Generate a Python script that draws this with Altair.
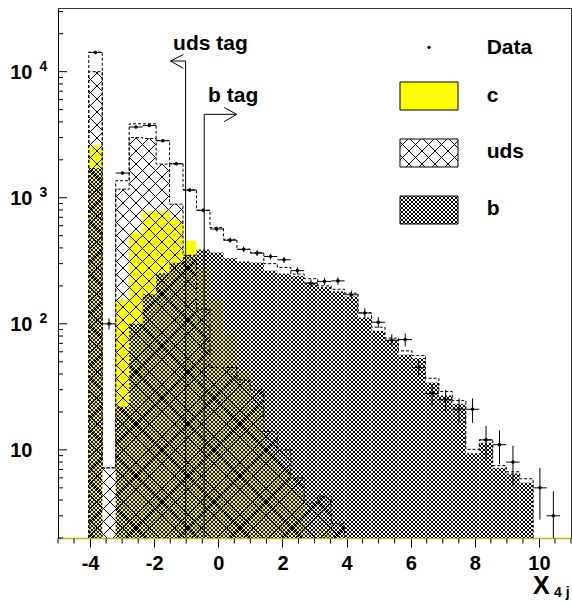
import math
import altair as alt
import pandas as pd

# ------------------------------------------------------------------ data
BIN_START = -4.04
BIN_WIDTH = 0.42
N_BINS = 35

data_counts = [14200, 100, 1570, 3640, 3740, 2830, 1860, 1150, 795, 565,
               460, 390, 364, 342, 322, 264, 210, 217, 219, 170,
               122, 103, 74, 75, 45, 28, 25, 21, 21, 12,
               11, 8, 0, 5, 3]
data_errors = [119, 10, 40, 60, 61, 53, 43, 34, 28, 24,
               21, 20, 19, 18.5, 18, 16, 14.5, 14.7, 14.8, 13,
               11, 10, 8.6, 8.7, 6.7, 5.3, 5, 4.6, 4.6, 3.5,
               3.3, 2.8, 0, 2.2, 1.7]
c_vals = [2600, 0, 155, 531, 780, 780, 675, 455, 277, 157,
          82, 42, 22, 9.4, 7.0, 4.7, 0, 2.35, 0, 0,
          0, 0, 0, 0, 0, 0, 0, 0, 0, 0,
          0, 0, 0, 0, 0]
uds_vals = [10000, 7.2, 1170, 3000, 2950, 1850, 890, 350, 130, 45,
            45, 36, 30, 14, 10, 6, 3.8, 4.3, 2.6, 0,
            0, 0, 0, 0, 0, 0, 0, 0, 0, 0,
            0, 0, 0, 0, 0]
b_vals = [1720, 0, 22, 100, 172, 252, 305, 350, 388, 368,
          332, 312, 306, 264, 250, 240, 213, 196, 181, 165,
          112, 88, 75, 57, 53.5, 34.2, 27, 23.2, 9.4, 11.4,
          7.2, 6.5, 5.5, 0, 0]
mc_total = [14300, 7.2, 1365, 3860, 3860, 2850, 1860, 1157, 795, 580,
            468, 390, 366, 300, 280, 248, 228, 200, 188, 175,
            122, 94, 77, 61, 56, 37, 29, 24.6, 10.1, 12,
            7.5, 6.7, 5.9, 0, 0]

x_major = [-4, -2, 0, 2, 4, 6, 8, 10]
x_minor = [-5, -4.5, -3.5, -3, -2.5, -1.5, -1, -0.5, 0.5, 1, 1.5, 2.5, 3, 3.5,
           4.5, 5, 5.5, 6.5, 7, 7.5, 8.5, 9, 9.5, 10.5, 11]
y_major = [10, 100, 1000, 10000]
y_major_exp = ["", "2", "3", "4"]
y_minor = [2, 3, 4, 5, 6, 7, 8, 9, 20, 30, 40, 50, 60, 70, 80, 90,
           200, 300, 400, 500, 600, 700, 800, 900,
           2000, 3000, 4000, 5000, 6000, 7000, 8000, 9000, 20000, 30000]

# cut arrows: (cut position, arrow height, tip x, arm x, arm y up, arm y down)
uds_cut = [-1.02, 12150, -1.49, -1.09, 13700, 10650]
b_cut = [-0.44, 4590, 0.57, 0.18, 5210, 4010]
tag_labels = ["uds tag", "b tag"]
tag_x = [-1.41, -0.32]
tag_y = [14860, 5780]

legend_labels = ["Data", "c", "uds", "b"]

# ------------------------------------------------------------------ layout
XMIN, XMAX = -5, 11
YMIN, YMAX = 2, 32000
W, H = 513, 530
FONT = "Liberation Sans"
YELLOW = "#ffff00"
LOG_LO, LOG_HI = math.log10(YMIN), math.log10(YMAX)

edges = [round(BIN_START + BIN_WIDTH * k, 4) for k in range(N_BINS + 1)]


def px_x(x):
    return (x - XMIN) / (XMAX - XMIN) * W


def px_y(v):
    return (LOG_HI - math.log10(v)) / (LOG_HI - LOG_LO) * H


def dx(X):
    return XMIN + X / W * (XMAX - XMIN)


def dy(Y):
    return 10 ** (LOG_HI - Y / H * (LOG_HI - LOG_LO))


def hatch_rect(X0, X1, Yt, Yb, pitch, fam):
    """45-degree hatch lines (pixel space) clipped to a rectangle."""
    out = []
    if fam == "/":          # X + Y = c
        n0 = math.ceil((X0 + Yt) / pitch)
        n1 = math.floor((X1 + Yb) / pitch)
        for n in range(n0, n1 + 1):
            c = n * pitch
            a = max(X0, c - Yb)
            b = min(X1, c - Yt)
            if b - a > 0.05:
                out.append((a, c - a, b, c - b))
    else:                   # X - Y = c
        n0 = math.ceil((X0 - Yb) / pitch)
        n1 = math.floor((X1 - Yt) / pitch)
        for n in range(n0, n1 + 1):
            c = n * pitch
            a = max(X0, Yt + c)
            b = min(X1, Yb + c)
            if b - a > 0.05:
                out.append((a, a - c, b, b - c))
    return out


def hatch_hist(vals, pitch):
    segs = []
    for k in range(N_BINS):
        if vals[k] <= YMIN:
            continue
        X0, X1 = px_x(edges[k]), px_x(edges[k + 1])
        Yt = px_y(vals[k])
        for fam in ("/", "\\"):
            segs += hatch_rect(X0, X1, Yt, H, pitch, fam)
    return segs


def seg_df(segs):
    return pd.DataFrame([{"x": dx(a), "y": dy(b), "x2": dx(c), "y2": dy(d)}
                         for a, b, c, d in segs])


xs = alt.Scale(domain=[XMIN, XMAX], nice=False, zero=False)
ys = alt.Scale(type="log", domain=[YMIN, YMAX], nice=False, clamp=True)
x_axis = alt.Axis(values=x_major, title=None, labelFont=FONT, labelFontSize=20,
                  labelFontWeight="bold", labelColor="black", tickSize=9,
                  tickColor="black", tickWidth=1, domainColor="#bdbd00",
                  domainWidth=1.5, labelPadding=6, grid=False,
                  labelExpr="toString(datum.value)")
y_axis = alt.Axis(ticks=False, labels=False, title=None, domainColor="black",
                  domainWidth=1, grid=False)


def X(f):
    return alt.X(f, scale=xs, axis=x_axis)


def Y(f):
    return alt.Y(f, scale=ys, axis=y_axis)


def area_df(vals):
    rows = [{"x": edges[k], "y": max(vals[k], YMIN), "base": YMIN} for k in range(len(vals))]
    rows.append({"x": edges[-1], "y": max(vals[-1], YMIN), "base": YMIN})
    return pd.DataFrame(rows)


def outline_df(vals):
    n = len(vals)
    while n > 0 and vals[n - 1] <= 0:
        n -= 1
    rows = [{"x": edges[0], "y": YMIN, "i": 0}]
    for k in range(n):
        rows.append({"x": edges[k], "y": max(vals[k], YMIN), "i": k + 1})
    rows.append({"x": edges[n], "y": max(vals[n - 1], YMIN), "i": n + 1})
    rows.append({"x": edges[n], "y": YMIN, "i": n + 2})
    return pd.DataFrame(rows)


def seg_layer(segs, width=1.0, color="black"):
    return alt.Chart(seg_df(segs)).mark_rule(color=color, strokeWidth=width).encode(
        x=X("x:Q"), y=Y("y:Q"), x2="x2:Q", y2="y2:Q")


layers = []
# c : solid yellow
layers.append(alt.Chart(area_df(c_vals)).mark_area(
    interpolate="step-after", color=YELLOW, opacity=1
).encode(x=X("x:Q"), y=Y("y:Q"), y2="base:Q"))
# uds : sparse cross hatch + dashed outline
layers.append(seg_layer(hatch_hist(uds_vals, 13), 1.0))
layers.append(alt.Chart(outline_df(uds_vals)).mark_line(
    interpolate="step-after", color="black", strokeWidth=1, strokeDash=[3, 2]
).encode(x=X("x:Q"), y=Y("y:Q"), order=alt.Order("i:Q")))
# b : dense cross hatch
layers.append(seg_layer(hatch_hist(b_vals, 4), 1.0))
# total MC dashed
layers.append(alt.Chart(outline_df(mc_total)).mark_line(
    interpolate="step-after", color="black", strokeWidth=1, strokeDash=[3, 2]
).encode(x=X("x:Q"), y=Y("y:Q"), order=alt.Order("i:Q")))

# data points with errors
drows = []
for k in range(N_BINS):
    if data_counts[k] > 0:
        drows.append({"xc": (edges[k] + edges[k + 1]) / 2, "xlo": edges[k], "xhi": edges[k + 1],
                      "n": data_counts[k], "lo": data_counts[k] - data_errors[k],
                      "hi": data_counts[k] + data_errors[k]})
ddf = pd.DataFrame(drows)
layers.append(alt.Chart(ddf).mark_rule(color="black", strokeWidth=1).encode(
    x=X("xc:Q"), y=Y("lo:Q"), y2="hi:Q"))
layers.append(alt.Chart(ddf).mark_rule(color="black", strokeWidth=1).encode(
    x=X("xlo:Q"), x2="xhi:Q", y=Y("n:Q")))
layers.append(alt.Chart(ddf).mark_circle(color="black", size=13, opacity=1).encode(
    x=X("xc:Q"), y=Y("n:Q")))

# cut arrows
segs = []
for cut in (uds_cut, b_cut):
    xc, ya, xt, xa, yu, yd = cut
    segs += [{"x": xc, "y": ya, "x2": xc, "y2": YMIN},
             {"x": xc, "y": ya, "x2": xt, "y2": ya},
             {"x": xt, "y": ya, "x2": xa, "y2": yu},
             {"x": xt, "y": ya, "x2": xa, "y2": yd}]
layers.append(alt.Chart(pd.DataFrame(segs)).mark_rule(color="black", strokeWidth=1).encode(
    x=X("x:Q"), y=Y("y:Q"), x2="x2:Q", y2="y2:Q"))
layers.append(alt.Chart(pd.DataFrame({"x": tag_x, "y": tag_y, "t": tag_labels})).mark_text(
    align="left", baseline="alphabetic", font=FONT, fontSize=21, fontWeight="bold", color="black"
).encode(x=X("x:Q"), y=Y("y:Q"), text="t:N"))

# axis ticks drawn inside (y) and minor (x)
layers.append(alt.Chart(pd.DataFrame({"v": y_major})).mark_rule(color="black", strokeWidth=1).encode(
    y=Y("v:Q"), x=alt.value(0), x2=alt.value(9)))
layers.append(alt.Chart(pd.DataFrame({"v": y_minor})).mark_rule(color="black", strokeWidth=1).encode(
    y=Y("v:Q"), x=alt.value(0), x2=alt.value(5)))
layers.append(alt.Chart(pd.DataFrame({"v": x_minor})).mark_rule(color="black", strokeWidth=1).encode(
    x=X("v:Q"), y=alt.value(H + 0.5), y2=alt.value(H + 5.5)))

# y tick labels 10^n
ylab = pd.DataFrame({"v": y_major, "e": y_major_exp, "b": ["10"] * len(y_major)})
layers.append(alt.Chart(ylab).mark_text(
    align="right", baseline="alphabetic", font=FONT, fontSize=20, fontWeight="bold", color="black", dy=7.5
).encode(y=Y("v:Q"), x=alt.value(-25.5), text="b:N"))
layers.append(alt.Chart(ylab).mark_text(
    align="left", baseline="alphabetic", font=FONT, fontSize=14, fontWeight="bold", color="black", dy=-0.5
).encode(y=Y("v:Q"), x=alt.value(-18.5), text="e:N"))

# x axis title  X_{4 j}
one = pd.DataFrame({"k": [0]})
layers.append(alt.Chart(one).mark_text(
    text="X", align="left", baseline="alphabetic", font=FONT, fontSize=25, fontWeight="bold", color="black"
).encode(x=alt.value(475), y=alt.value(586)))
layers.append(alt.Chart(one).mark_text(
    text="4 j", align="left", baseline="alphabetic", font=FONT, fontSize=14, fontWeight="bold", color="black"
).encode(x=alt.value(496), y=alt.value(589)))

# legend
LX0, LX1 = 342, 400
LH = 28
box_top = [74, 131, 188]
text_base = [46, 93.7, 150.3, 207]
layers.append(alt.Chart(one).mark_circle(color="black", size=10, opacity=1).encode(
    x=alt.value(371), y=alt.value(39.3)))
for lab, yb in zip(legend_labels, text_base):
    layers.append(alt.Chart(one).mark_text(
        text=lab, align="left", baseline="alphabetic", font=FONT, fontSize=21, fontWeight="bold", color="black"
    ).encode(x=alt.value(428.7), y=alt.value(yb)))
layers.append(alt.Chart(one).mark_rect(fill=YELLOW, stroke="black", strokeWidth=1).encode(
    x=alt.value(LX0), x2=alt.value(LX1), y=alt.value(box_top[0]), y2=alt.value(box_top[0] + LH)))
for top, pitch, lw in ((box_top[1], 13, 1.0), (box_top[2], 4, 1.0)):
    layers.append(alt.Chart(one).mark_rect(fill="white", stroke="black", strokeWidth=1).encode(
        x=alt.value(LX0), x2=alt.value(LX1), y=alt.value(top), y2=alt.value(top + LH)))
    lsegs = []
    for fam in ("/", "\\"):
        lsegs += hatch_rect(LX0, LX1, top, top + LH, pitch, fam)
    layers.append(seg_layer(lsegs, lw))

chart = alt.layer(*layers).properties(
    width=W, height=H,
    autosize=alt.AutoSizeParams(type="none"),
    padding={"left": 58, "top": 8, "right": 1, "bottom": 68},
    background="white",
).configure_view(stroke="#333333", strokeWidth=1)

chart.save("out.html", embed_options={"renderer": "svg", "actions": False})
